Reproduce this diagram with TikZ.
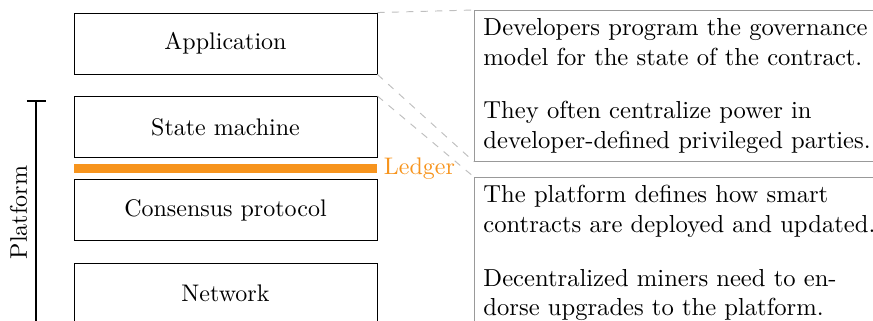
\documentclass[tikz,border=0pt]{standalone}
\usepackage{tikz}
\usetikzlibrary{calc}

\definecolor{ledgerorange}{HTML}{F7941D}

\begin{document}
\begin{tikzpicture}[
		x=0.41667pt, y=-0.41667pt,
		layer/.style={draw, minimum width=126.25pt, minimum height=25.4pt, inner sep=0pt},
		note/.style={draw=gray!80, anchor=north west, align=left, text width=164pt,
			inner xsep=3.75pt, inner ysep=3.2pt, font=\fontsize{10.25}{12.4}\selectfont},
		zoomline/.style={draw=gray!50, dashed}]

		\useasboundingbox (0,0) rectangle (873,320);

		% the stack of layers
		\node[layer] (app)   at (225.5, 43.5) {Application};
		\node[layer] (state) at (225.5,127)   {State machine};
		\node[layer] (cons)  at (225.5,210)   {Consensus protocol};
		\node[layer] (net)   at (225.5,293.5) {Network};

		\node[fill=ledgerorange, minimum width=126.25pt, minimum height=3.75pt, inner sep=0pt] (ledger) at (225.5,168.5) {};
		\node[right, text=ledgerorange, inner sep=2.5pt] (ledgerlabel) at (ledger.east) {Ledger};

		% platform bracket
		\draw[thick] (27,101) -- (46,101);
		\draw[thick] (36,101) -- node[rotate=90, above] (platform) {Platform} (36,324);

		% notes on the right
		\node[note] (devnote) at (474,10) {Developers program the governance\\
			model for the state of the contract.\\[10pt]
			They often centralize power in\\
			developer-defined privileged parties.};
		\node[note] (platnote) at (474,177) {The platform defines how smart\\
			contracts are deployed and updated.\\[10pt]
			Decentralized miners need to en-\\
			dorse upgrades to the platform.\\[10pt]\mbox{}};

		\draw[zoomline] (app.north east) -- (devnote.north west);
		\draw[zoomline] (app.south east) -- (devnote.south west);
		\draw[zoomline] (state.north east) -- (platnote.north west);

\end{tikzpicture}
\end{document}
